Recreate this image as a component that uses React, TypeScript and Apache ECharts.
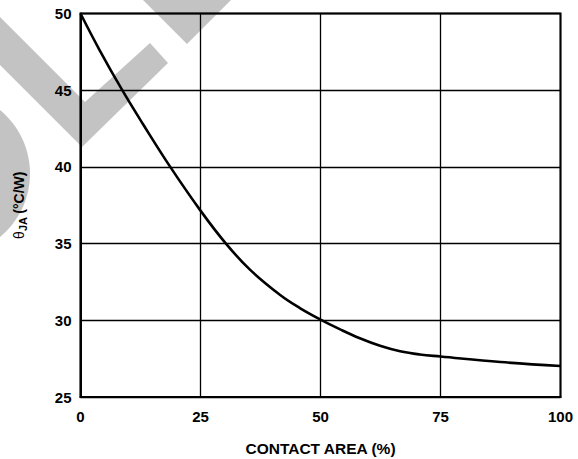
import React, { useEffect, useRef } from "react";
import * as echarts from "echarts";

const contactArea = [0, 4, 8.7, 13, 18.7, 25, 30.3, 35.3, 41.6, 45.7, 50, 54.1, 58.2, 62.4, 66.6, 70.7, 75, 87.5, 100];
const thetaJA = [50, 47.6, 45, 42.8, 40, 37.15, 35, 33.3, 31.65, 30.8, 30.05, 29.41, 28.83, 28.34, 27.98, 27.77, 27.64, 27.28, 27.02];
const xTicks = [0, 25, 50, 75, 100];
const yTicks = [25, 30, 35, 40, 45, 50];

const FONT = "'Liberation Sans', Arial, Helvetica, sans-serif";
const WM = "#c3c3c3";

export default function App() {
  const ref = useRef<HTMLDivElement>(null);
  useEffect(() => {
    if (!ref.current) return;
    const chart = echarts.init(ref.current, null, { renderer: "svg" });
    chart.setOption({
      animation: false,
      backgroundColor: "#ffffff",
      grid: {
        left: 80.5,
        right: 17.5,
        top: 13.5,
        bottom: 62,
        outerBoundsMode: "none",
        containLabel: false,
        show: true,
        borderColor: "#000",
        borderWidth: 2,
        backgroundColor: "transparent",
      },
      graphic: [
        {
          type: "polygon",
          z: -10,
          silent: true,
          shape: { points: [[0, 17], [85, 102], [150, 43], [168, 63], [82, 147], [0, 65]] },
          style: { fill: WM },
        },
        {
          type: "polygon",
          z: -10,
          silent: true,
          shape: { points: [[143, 0], [187, 44], [231, 0]] },
          style: { fill: WM },
        },
        {
          type: "circle",
          z: -10,
          silent: true,
          shape: { cx: -52, cy: 173.5, r: 82 },
          style: { fill: WM },
        },
      ],
      xAxis: {
        type: "value",
        min: xTicks[0],
        max: xTicks[xTicks.length - 1],
        interval: 25,
        name: "CONTACT AREA (%)",
        nameLocation: "middle",
        nameGap: 43,
        nameTextStyle: { fontFamily: FONT, fontWeight: "bold", fontSize: 15.5, color: "#000" },
        axisLine: { show: true, lineStyle: { color: "#000", width: 2 } },
        axisTick: { show: false },
        axisLabel: { fontFamily: FONT, fontWeight: "bold", fontSize: 15, color: "#000", margin: 12 },
        splitLine: { show: true, lineStyle: { color: "#000", width: 1.3 } },
      },
      yAxis: {
        type: "value",
        min: yTicks[0],
        max: yTicks[yTicks.length - 1],
        interval: 5,
        name: "{t|θ}{s|JA} {b|(°C/W)}",
        nameLocation: "middle",
        nameGap: 52,
        nameRotate: 90,
        nameTextStyle: {
          color: "#000",
          rich: {
            t: { fontFamily: FONT, fontSize: 14, color: "#000" },
            s: { fontFamily: FONT, fontSize: 11, fontWeight: "bold", color: "#000", padding: [8, 0, 0, 0] },
            b: { fontFamily: FONT, fontSize: 14, fontWeight: "bold", color: "#000" },
          },
        },
        axisLine: { show: true, lineStyle: { color: "#000", width: 2 } },
        axisTick: { show: false },
        axisLabel: { fontFamily: FONT, fontWeight: "bold", fontSize: 15, color: "#000", margin: 9 },
        splitLine: { show: true, lineStyle: { color: "#000", width: 1.3 } },
      },
      series: [
        {
          type: "line",
          data: contactArea.map((x, i) => [x, thetaJA[i]]),
          smooth: 0.4,
          showSymbol: false,
          symbol: "none",
          lineStyle: { color: "#000", width: 2.6 },
          z: 5,
        },
      ],
    });
    return () => chart.dispose();
  }, []);
  return (
    <div
      ref={ref}
      style={{ position: "fixed", left: 0, top: 0, width: 578, height: 459 }}
    />
  );
}
